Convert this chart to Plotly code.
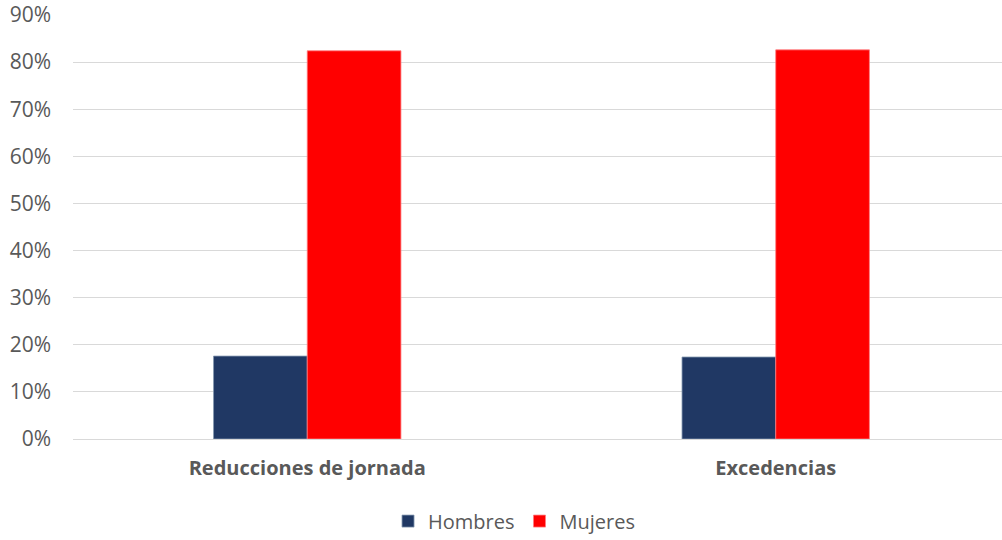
import plotly.graph_objects as go

# datos
categorias = ["Reducciones de jornada", "Excedencias"]
hombres = [0.176, 0.174]
mujeres = [0.824, 0.826]
ticks_y = [0, 0.1, 0.2, 0.3, 0.4, 0.5, 0.6, 0.7, 0.8, 0.9]
ticks_y_txt = ["0%", "10%", "20%", "30%", "40%", "50%", "60%", "70%", "80%", "90%"]

gris = "#595959"

fig = go.Figure()
fig.add_trace(go.Bar(
    x=categorias, y=hombres, name="Hombres",
    marker=dict(color="#203864", line=dict(color="#8497b0", width=0.8)),
))
fig.add_trace(go.Bar(
    x=categorias, y=mujeres, name="Mujeres",
    marker=dict(color="#ff0000", line=dict(color="#ff7c80", width=0.8)),
))

fig.update_layout(
    width=1002, height=540,
    margin=dict(l=73, r=0, t=15, b=101),
    paper_bgcolor="white", plot_bgcolor="white",
    barmode="group", bargap=0.6, bargroupgap=0,
    font=dict(family="Open Sans", color=gris),
    legend=dict(
        orientation="h", xref="container", x=0.513, xanchor="center",
        yref="container", y=0.035, yanchor="middle",
        font=dict(size=20, color=gris), itemwidth=30, traceorder="normal",
    ),
    showlegend=True,
)
fig.update_xaxes(
    range=[-0.5, 1.483], showgrid=False, showline=False, ticks="",
    tickfont=dict(size=20, color=gris, weight="bold"),
    ticklabelstandoff=15,
)
fig.update_yaxes(
    range=[0, 0.9], tickvals=ticks_y, ticktext=ticks_y_txt,
    showgrid=True, gridcolor="#d9d9d9", gridwidth=1.3,
    zeroline=True, zerolinecolor="#d9d9d9", zerolinewidth=1.3,
    showline=False, ticks="", tickfont=dict(size=21, color=gris),
    ticklabelstandoff=21,
)

# sin el margen por defecto del body ni la barra de herramientas
fig.write_html("out.html", config={"displayModeBar": False},
               post_script="document.body.style.margin='0';")
